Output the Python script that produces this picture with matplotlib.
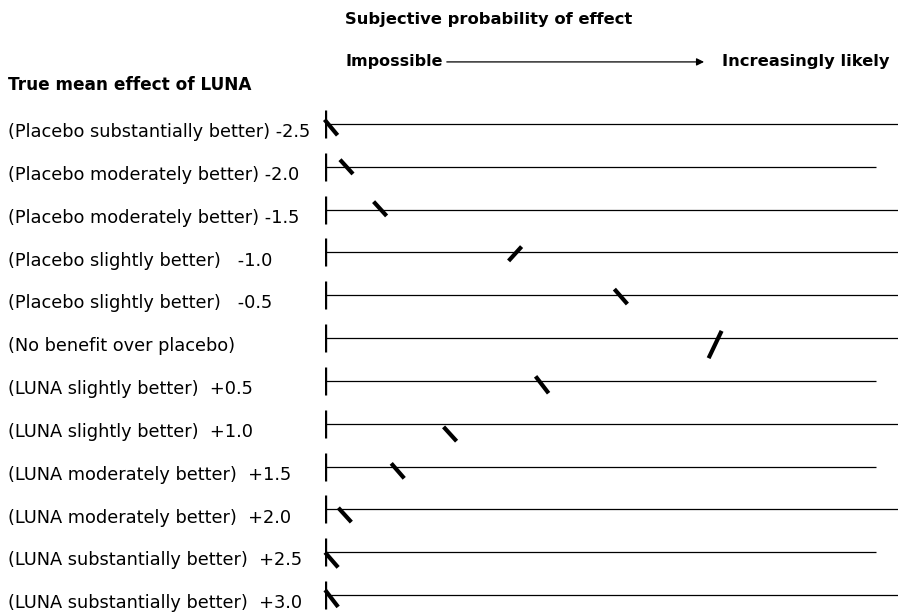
import numpy as np
import matplotlib.pyplot as plt

plt.rcParams['font.family'] = ['DejaVu Sans']

labels = ['(Placebo substantially better) -2.5',
          '(Placebo moderately better) -2.0',
          '(Placebo moderately better) -1.5',
          '(Placebo slightly better)   -1.0',
          '(Placebo slightly better)   -0.5',
          '(No benefit over placebo)',
          '(LUNA slightly better)  +0.5',
          '(LUNA slightly better)  +1.0',
          '(LUNA moderately better)  +1.5',
          '(LUNA moderately better)  +2.0',
          '(LUNA substantially better)  +2.5',
          '(LUNA substantially better)  +3.0']
# subjective probability marks (0 = impossible, 100 = end of line)
mark_x = [1.1, 3.9, 10.0, 34.5, 53.7, 70.8, 39.4, 22.7, 13.2, 3.6, 1.2, 1.2]
# slope of each hand drawn mark (+ = "\", - = "/")
mark_slope = [1.2, 1.1, 1.1, -1.1, 1.15, -2.1, 1.3, 1.1, 1.15, 1.1, 1.15, 1.3]
# vertical drift of the mark from the line, in rows
mark_off = [0.08, 0.0, -0.02, 0.03, 0.03, 0.15, 0.09, 0.24, 0.10, 0.13, 0.18, 0.08]
long_line = [True, False, True, True, True, True, False, True, False, True, False, True]

title = 'Subjective probability of effect'
left_end = 'Impossible'
right_end = 'Increasingly likely'
row_title = 'True mean effect of LUNA'

fig = plt.figure(figsize=(8.98, 6.14), dpi=100)
ax = fig.add_axes([325/898, 0, 551/898, 1])
ax.set_xlim(0, 100)
ax.set_ylim(11.443, -2.896)
ax.axis('off')

px = 100/551.   # one pixel in x units
py = 1/42.82    # one pixel in row units

for i, lab in enumerate(labels):
    xe = 104 if long_line[i] else 100
    ax.plot([0, xe], [i, i], color='black', lw=0.9, clip_on=False, solid_capstyle='butt')
    ax.plot([0, 0], [i - 14*py, i + 14*py], color='black', lw=2.4, solid_capstyle='butt')
    hx = 6.5*px
    hy = 6.5*py*mark_slope[i]
    yc = i + mark_off[i]
    ax.plot([mark_x[i] - hx, mark_x[i] + hx], [yc - hy, yc + hy], color='black', lw=3.0,
            solid_capstyle='butt', clip_on=False)
    ax.text(-57.5, i + 0.19, lab, ha='left', va='center', fontsize=12.8, clip_on=False)

ax.text(-57.5, -0.91, row_title, ha='left', va='center', fontsize=12.2, fontweight='bold')
ax.text(3.6, -2.43, title, ha='left', va='center', fontsize=11.8, fontweight='bold')
ax.text(3.8, -1.45, left_end, ha='left', va='center', fontsize=11.5, fontweight='bold')
ax.text(102.5, -1.45, right_end, ha='right', va='center', fontsize=11.8, fontweight='bold',
        clip_on=False)
ax.annotate('', xy=(69.3, -1.45), xytext=(21.6, -1.45),
            arrowprops=dict(arrowstyle='-|>', color='black', lw=0.9, mutation_scale=11))

fig.savefig('out.png', dpi=100)
